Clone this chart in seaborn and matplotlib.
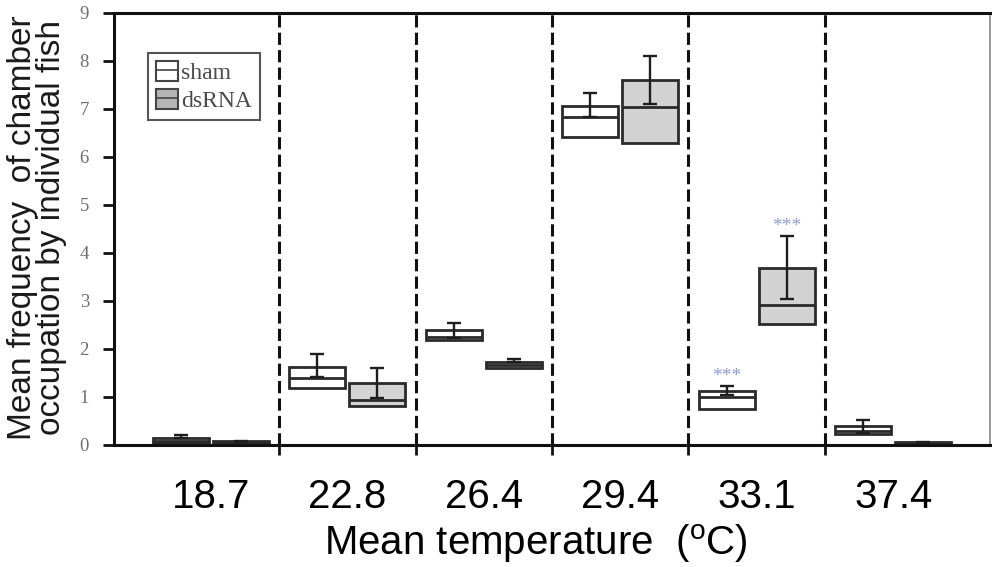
import matplotlib
matplotlib.use('Agg')
import matplotlib.pyplot as plt
from matplotlib.patches import Patch
from matplotlib.lines import Line2D
import numpy as np
import pandas as pd
import seaborn as sns

# mean temperature of each chamber (category labels)
temps = ['18.7', '22.8', '26.4', '29.4', '33.1', '37.4']
groups = ['sham', 'dsRNA']

# box: lower quartile, median, upper quartile
sham_q1 = [0.04, 1.19, 2.19, 6.41, 0.75, 0.23]
sham_med = [0.09, 1.40, 2.25, 6.83, 1.00, 0.30]
sham_q3 = [0.15, 1.63, 2.40, 7.06, 1.13, 0.39]
# error bar: from mean up to mean + error
sham_mean = [0.15, 1.42, 2.23, 6.84, 1.04, 0.25]
sham_top = [0.21, 1.90, 2.54, 7.33, 1.23, 0.53]

dsrna_q1 = [0.01, 0.81, 1.60, 6.29, 2.52, 0.00]
dsrna_med = [0.04, 0.94, 1.66, 7.04, 2.92, 0.03]
dsrna_q3 = [0.08, 1.29, 1.73, 7.60, 3.69, 0.06]
dsrna_mean = [0.06, 0.98, 1.72, 7.10, 3.04, 0.05]
dsrna_top = [0.08, 1.60, 1.79, 8.10, 4.35, 0.07]

# significance marks (group, temperature)
signif = [('sham', '33.1'), ('dsRNA', '33.1')]

box_colors = {'sham': 'white', 'dsRNA': '#d3d3d3'}

# five points per box so that quartiles and median come out exactly
rows = []
for g, q1s, meds, q3s in [('sham', sham_q1, sham_med, sham_q3),
                          ('dsRNA', dsrna_q1, dsrna_med, dsrna_q3)]:
    for t, a, m, b in zip(temps, q1s, meds, q3s):
        for v in (a, a, m, b, b):
            rows.append({'temp': t, 'group': g, 'value': v})
df = pd.DataFrame(rows)

sns.set_style('ticks')
plt.rcParams['font.family'] = ['Liberation Sans', 'DejaVu Sans']

fig = plt.figure(figsize=(9.92, 5.67), dpi=100)
ax = fig.add_axes([0.1149, 0.2152, 0.8831, 0.7619])

width = 0.88
sns.boxplot(data=df, x='temp', y='value', hue='group', order=temps,
            hue_order=groups, palette=box_colors, width=width, gap=0.07,
            whis=0, showcaps=False, showfliers=False, linewidth=2.0,
            linecolor='#2a2a2a', legend=False, ax=ax,
            whiskerprops={'linewidth': 0})

# error bars on top of the boxes
step = width / len(groups)
for j, (base, top) in enumerate([(sham_mean, sham_top), (dsrna_mean, dsrna_top)]):
    xs = np.arange(len(temps)) + (j - 0.5) * step
    base = np.array(base)
    top = np.array(top)
    ax.errorbar(xs, base, yerr=[np.zeros_like(base), top - base], fmt='none',
                ecolor='#1e1e1e', elinewidth=1.7, capsize=5, capthick=1.7,
                zorder=4)

# *** marks
tops = {'sham': sham_top, 'dsRNA': dsrna_top}
for g, t in signif:
    i = temps.index(t)
    x = i + (groups.index(g) - 0.5) * step
    ax.text(x, tops[g][i] + 0.1, '***', ha='center', va='baseline',
            fontsize=14, color='#8e9ccf', family='Liberation Serif')

# dashed separators between temperatures
for b in np.arange(len(temps) - 1) + 0.5:
    ax.axvline(b, color='#111111', lw=2.2, ls=(0, (4, 1.7)), zorder=1)

ax.set_xlim(-0.71, 5.71)
ax.set_ylim(0, 9)
ax.set_xlabel('')
ax.set_ylabel('')

ax.set_xticks(np.arange(len(temps) - 1) + 0.5)
ax.set_xticklabels([])
ax.set_xticks(np.arange(len(temps)), minor=True)
ax.set_xticklabels(temps, minor=True, fontsize=29, color='black')
ax.tick_params(axis='x', which='minor', length=0, pad=24, bottom=True)
ax.tick_params(axis='x', which='major', length=7, width=2, direction='out',
               color='#111111', bottom=True)

ax.set_yticks(range(10))
ax.tick_params(axis='y', which='major', length=8, width=2, pad=10, labelsize=13.5,
               labelcolor='#6e6e6e', direction='out', color='#111111', left=True)
ax.tick_params(axis='y', which='minor', left=False)
for lbl in ax.get_yticklabels():
    lbl.set_family('Liberation Serif')

for s in ['left', 'top', 'bottom']:
    ax.spines[s].set_visible(True)
    ax.spines[s].set_color('#111111')
    ax.spines[s].set_linewidth(2.2)
ax.spines['right'].set_visible(True)
ax.spines['right'].set_color('#888888')
ax.spines['right'].set_linewidth(1.2)

# legend with box-like handles
handles = [(Patch(facecolor='white', edgecolor='#444444', lw=1.5),
            Line2D([], [], color='#444444', lw=1.2)),
           (Patch(facecolor='#b5b5b5', edgecolor='#444444', lw=1.5),
            Line2D([], [], color='#444444', lw=1.2))]
leg = ax.legend(handles, groups, loc='upper left', bbox_to_anchor=(0.039, 0.907),
                borderaxespad=0, prop={'family': 'Liberation Serif', 'size': 17},
                handlelength=0.9, handleheight=0.9, handletextpad=0.15,
                labelspacing=0.2, borderpad=0.35, fancybox=False,
                edgecolor='#555555', framealpha=1, labelcolor='#4a4a4a')
leg.get_frame().set_linewidth(1.5)

fig.text(0.0373, 0.598, 'Mean frequency  of chamber\noccupation by individual fish',
         rotation=90, ha='center', va='center', fontsize=24, linespacing=0.92,
         color='#1a1a1a')
fig.text(0.540, 0.042, r'Mean temperature  ($\mathregular{^o}$C)', ha='center',
         va='center', fontsize=29, color='black')

fig.savefig('out.png', dpi=100)
